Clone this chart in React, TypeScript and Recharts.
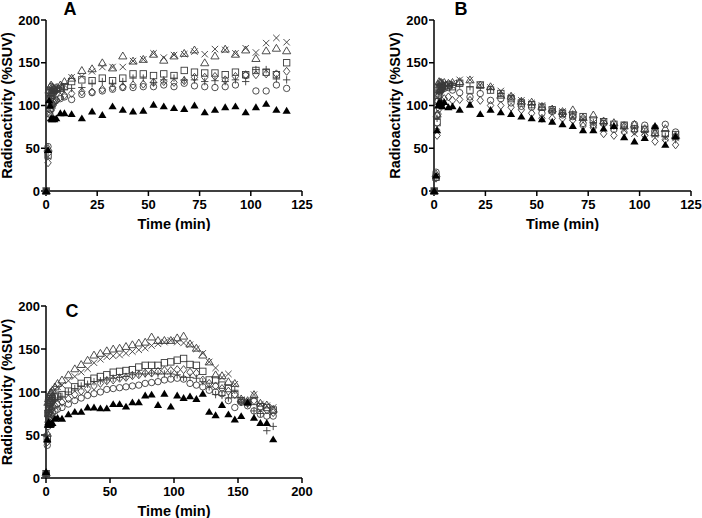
import React from 'react';
import { ScatterChart, Scatter, XAxis, YAxis } from 'recharts';

const F = "Arial, 'Liberation Sans', Helvetica, sans-serif";

// ---------- time grids (min) ----------
const timesAB = [0.1, 1, 1.5, 2, 2.5, 3, 3.5, 4, 5, 7, 9,
  12.5, 17.5, 22.5, 27.5, 32.5, 37.5, 42.5, 47.5, 52.5, 57.5, 62.5,
  67.5, 72.5, 77.5, 82.5, 87.5, 92.5, 97.5, 102.5, 107.5, 112.5, 117.5];
const timesC = [0.1, 1, 1.5, 2, 2.5, 3, 3.5, 4, 5, 7, 9,
  12.5, 17.5, 22.5, 27.5, 32.5, 37.5, 42.5, 47.5, 52.5, 57.5, 62.5,
  67.5, 72.5, 77.5, 82.5, 87.5, 92.5, 97.5, 102.5, 107.5, 112.5, 117.5,
  122.5, 127.5, 132.5, 137.5, 142.5, 147.5, 152.5, 157.5, 162.5, 167.5, 172.5, 177.5];

const xTicksAB = [0, 25, 50, 75, 100, 125];
const xTicksC = [0, 50, 100, 150, 200];
const yTicks = [0, 50, 100, 150, 200];

// ---------- Panel A ----------
const aTriFilled = [0, 48, 106, 100, 85, 84, 85, 84, 85, 91, 91,
  90, 85, 93, 89, 99, 95, 93, 94, 101, 99, 97, 96, 100, 92, 95, 98, 99, 92, 98, 102, 95, 94];
const aCircle = [0, 52, 90, 95, 100, 102, 104, 105, 106, 108, 110,
  107, 113, 115, 117, 119, 121, 121, 122, 122, 124, 122, 126, 123, 122, 121, 122, 124, 135, 117, 117, 124, 120];
const aDiamond = [0, 33, 85, 90, 94, 97, 100, 103, 106, 110, 112,
  114, 116, 116, 119, 121, 122, 124, 125, 127, 128, 127, 129, 133, 133, 134, 130, 134, 136, 136, 137, 137, 140];
const aPlus = [0, 45, 105, 110, 112, 114, 115, 116, 117, 118, 119,
  120, 121, 126, 128, 126, 128, 132, 132, 127, 130, 132, 130, 130, 128, 129, 128, 130, 128, 142, 142, 131, 130];
const aSquare = [0, 42, 100, 108, 112, 114, 116, 118, 119, 120, 122,
  128, 130, 129, 132, 129, 132, 137, 137, 135, 137, 135, 141, 139, 138, 138, 136, 139, 136, 141, 139, 136, 150];
const aCross = [0, 40, 112, 115, 116, 117, 118, 118, 120, 122, 124,
  133, 134, 140, 145, 145, 145, 152, 154, 161, 156, 159, 160, 163, 160, 166, 165, 161, 167, 162, 173, 179, 174];
const aTriOpen = [0, 50, 118, 122, 124, 122, 121, 120, 121, 124, 128,
  132, 141, 143, 150, 144, 158, 152, 154, 160, 153, 158, 161, 165, 150, 158, 166, 160, 165, 155, 164, 167, 164];

// ---------- Panel B ----------
const bTriFilled = [0, 18, 71, 100, 104, 102, 103, 99, 104, 98, 99,
  95, 101, 90, 95, 92, 90, 87, 85, 84, 81, 78, 76, 71, 71, 73, 76, 63, 58, 62, 76, 54, 64];
const bCircle = [0, 22, 88, 105, 112, 116, 118, 119, 120, 121, 118,
  115, 110, 114, 106, 108, 103, 99, 98, 91, 93, 89, 87, 79, 77, 79, 72, 77, 78, 77, 74, 78, 69];
const bDiamond = [0, 15, 65, 90, 96, 100, 103, 105, 108, 110, 106,
  107, 106, 106, 100, 100, 98, 95, 91, 85, 85, 85, 83, 76, 74, 67, 65, 69, 70, 65, 58, 60, 54];
const bPlus = [0, 17, 85, 110, 115, 118, 120, 121, 122, 123, 124,
  124, 122, 121, 119, 114, 110, 105, 101, 98, 94, 91, 90, 84, 80, 79, 76, 75, 73, 69, 65, 64, 60];
const bSquare = [0, 16, 80, 112, 118, 120, 122, 122, 123, 124, 122,
  126, 118, 124, 118, 114, 108, 103, 101, 98, 95, 91, 89, 87, 83, 81, 78, 77, 73, 72, 68, 67, 66];
const bCross = [0, 17, 75, 115, 120, 122, 124, 124, 125, 125, 126,
  130, 130, 124, 121, 117, 110, 106, 103, 100, 94, 93, 86, 84, 80, 81, 75, 71, 67, 69, 66, 62, 62];
const bTriOpen = [0, 20, 90, 125, 128, 127, 127, 126, 127, 126, 127,
  128, 130, 124, 122, 112, 111, 105, 104, 99, 96, 93, 95, 86, 89, 82, 80, 76, 78, 73, 68, 73, 65];

// ---------- Panel C ----------
const cTriFilled = [7, 45, 62, 65, 63, 62, 62, 63, 64, 69, 70,
  69, 74, 77, 77, 82, 82, 81, 81, 86, 86, 83, 88, 88, 96, 97, 85, 98, 83, 96, 93,
  95, 92, 98, 77, 73, 85, 74, 68, 72, 88, 70, 64, 64, 45];
const cCircle = [5, 38, 60, 65, 68, 70, 72, 74, 76, 78, 80,
  82, 86, 90, 93, 96, 98, 100, 103, 104, 105, 106, 107, 108, 110, 111, 112, 114, 115, 116, 115,
  110, 108, 106, 102, 100, 98, 90, 82, 88, 84, 78, 74, 72, 72];
const cDiamond = [5, 42, 65, 70, 74, 76, 78, 80, 82, 84, 86,
  88, 92, 97, 101, 104, 107, 110, 113, 114, 116, 117, 119, 120, 122, 122, 124, 125, 125, 126, 126,
  123, 122, 114, 110, 107, 104, 101, 97, 89, 87, 90, 82, 79, 76];
const cPlus = [6, 50, 72, 76, 80, 83, 85, 87, 89, 91, 93,
  95, 100, 104, 107, 109, 112, 113, 114, 116, 117, 118, 120, 121, 121, 122, 121, 121, 121, 120, 117,
  117, 116, 112, 106, 97, 96, 93, 102, 88, 86, 78, 75, 55, 60];
const cSquare = [5, 45, 75, 80, 83, 86, 88, 90, 92, 94, 95,
  97, 101, 106, 110, 113, 116, 118, 120, 123, 124, 125, 126, 129, 131, 131, 131, 134, 135, 137, 139,
  132, 131, 124, 114, 114, 108, 104, 97, 90, 88, 89, 83, 82, 79];
const cCross = [5, 48, 82, 86, 89, 92, 94, 96, 99, 103, 106,
  108, 113, 118, 123, 127, 134, 138, 141, 142, 143, 145, 147, 149, 151, 154, 156, 158, 160, 158, 157,
  155, 150, 145, 135, 128, 117, 121, 109, 91, 88, 97, 86, 84, 82];
const cTriOpen = [6, 52, 88, 92, 95, 97, 99, 100, 102, 106, 110,
  114, 120, 127, 132, 137, 143, 145, 148, 150, 151, 153, 155, 157, 158, 164, 160, 160, 160, 163, 165,
  156, 151, 143, 135, 120, 119, 112, 110, 92, 90, 97, 87, 85, 80];

// ---------- marker shapes ----------
const ST = '#3a3a3a';
const SW = 0.9;
const triPath = (p: any) => `M${p.cx},${p.cy - 3.9}L${p.cx + 4.1},${p.cy + 3}L${p.cx - 4.1},${p.cy + 3}Z`;
const triFilled = (p: any) => <path d={triPath(p)} fill="#000" />;
const triOpen = (p: any) => <path d={triPath(p)} fill="none" stroke={ST} strokeWidth={SW} />;
const circle = (p: any) => <circle cx={p.cx} cy={p.cy} r={3.2} fill="none" stroke={ST} strokeWidth={SW} />;
const square = (p: any) => <rect x={p.cx - 3.2} y={p.cy - 3.2} width={6.4} height={6.4} fill="none" stroke={ST} strokeWidth={SW} />;
const diamond = (p: any) => (
  <path d={`M${p.cx},${p.cy - 4}L${p.cx + 3.2},${p.cy}L${p.cx},${p.cy + 4}L${p.cx - 3.2},${p.cy}Z`} fill="none" stroke={ST} strokeWidth={SW} />
);
const plus = (p: any) => (
  <path d={`M${p.cx - 3.7},${p.cy}H${p.cx + 3.7}M${p.cx},${p.cy - 3.7}V${p.cy + 3.7}`} fill="none" stroke={ST} strokeWidth={SW} />
);
const cross = (p: any) => (
  <path d={`M${p.cx - 3.2},${p.cy - 3.2}L${p.cx + 3.2},${p.cy + 3.2}M${p.cx + 3.2},${p.cy - 3.2}L${p.cx - 3.2},${p.cy + 3.2}`} fill="none" stroke={ST} strokeWidth={SW} />
);

const toPts = (times: number[], vals: number[]) => times.map((t, i) => ({ x: t, y: vals[i] }));

type S = { name: string; values: number[]; shape: (p: any) => React.ReactElement };

const tickStyle = { fill: '#000', fontSize: 13, fontWeight: 'bold', fontFamily: F };
const labelStyle = { fill: '#000', fontSize: 14.5, fontWeight: 'bold', fontFamily: F, textAnchor: 'middle' as const };

function Panel(props: {
  left: number; top: number; width: number; height: number; mt: number; mr: number;
  times: number[]; xMax: number; xTicks: number[]; series: S[];
}) {
  const { left, top, width, height, mt, mr, times, xMax, xTicks, series } = props;
  return (
    <div style={{ position: 'absolute', left, top }}>
      <ScatterChart width={width} height={height} margin={{ top: mt, right: mr, bottom: 0, left: 0 }}>
        <XAxis
          type="number" dataKey="x" domain={[0, xMax]} ticks={xTicks} height={40}
          axisLine={{ stroke: '#000', strokeWidth: 1.5 }} tickLine={{ stroke: '#000', strokeWidth: 1.5 }}
          tickSize={5} tickMargin={4} tick={tickStyle} interval={0}
          label={{ value: 'Time (min)', position: 'insideBottom', offset: 2, style: labelStyle }}
        />
        <YAxis
          type="number" dataKey="y" domain={[0, 200]} ticks={yTicks} width={46}
          axisLine={{ stroke: '#000', strokeWidth: 1.5 }} tickLine={{ stroke: '#000', strokeWidth: 1.5 }}
          tickSize={5} tickMargin={1} tick={tickStyle} interval={0}
          label={{ value: 'Radioactivity (%SUV)', angle: -90, position: 'insideLeft', offset: 7, style: labelStyle }}
        />
        {series.map((s) => (
          <Scatter key={s.name} name={s.name} data={toPts(times, s.values)} shape={s.shape} isAnimationActive={false} />
        ))}
      </ScatterChart>
    </div>
  );
}

const seriesA: S[] = [
  { name: 'circle', values: aCircle, shape: circle },
  { name: 'diamond', values: aDiamond, shape: diamond },
  { name: 'plus', values: aPlus, shape: plus },
  { name: 'square', values: aSquare, shape: square },
  { name: 'cross', values: aCross, shape: cross },
  { name: 'triOpen', values: aTriOpen, shape: triOpen },
  { name: 'triFilled', values: aTriFilled, shape: triFilled },
];
const seriesB: S[] = [
  { name: 'circle', values: bCircle, shape: circle },
  { name: 'diamond', values: bDiamond, shape: diamond },
  { name: 'plus', values: bPlus, shape: plus },
  { name: 'square', values: bSquare, shape: square },
  { name: 'cross', values: bCross, shape: cross },
  { name: 'triOpen', values: bTriOpen, shape: triOpen },
  { name: 'triFilled', values: bTriFilled, shape: triFilled },
];
const seriesC: S[] = [
  { name: 'circle', values: cCircle, shape: circle },
  { name: 'diamond', values: cDiamond, shape: diamond },
  { name: 'plus', values: cPlus, shape: plus },
  { name: 'square', values: cSquare, shape: square },
  { name: 'cross', values: cCross, shape: cross },
  { name: 'triOpen', values: cTriOpen, shape: triOpen },
  { name: 'triFilled', values: cTriFilled, shape: triFilled },
];

export default function App() {
  return (
    <div style={{ position: 'absolute', left: 0, top: 0, width: 702, height: 518, background: '#fff', overflow: 'hidden' }}>
      <Panel left={0} top={0} width={340} height={231} mt={20} mr={38} times={timesAB} xMax={125} xTicks={xTicksAB} series={seriesA} />
      <Panel left={388} top={0} width={314} height={231} mt={20} mr={11} times={timesAB} xMax={125} xTicks={xTicksAB} series={seriesB} />
      <Panel left={0} top={250} width={340} height={268} mt={56} mr={38} times={timesC} xMax={200} xTicks={xTicksC} series={seriesC} />
      <svg width={702} height={518} style={{ position: 'absolute', left: 0, top: 0, pointerEvents: 'none' }}>
        <text x={70} y={15} textAnchor="middle" fontFamily={F} fontWeight="bold" fontSize={18} fill="#000">A</text>
        <text x={461} y={15} textAnchor="middle" fontFamily={F} fontWeight="bold" fontSize={18} fill="#000">B</text>
        <text x={72} y={317} textAnchor="middle" fontFamily={F} fontWeight="bold" fontSize={18} fill="#000">C</text>
      </svg>
    </div>
  );
}
